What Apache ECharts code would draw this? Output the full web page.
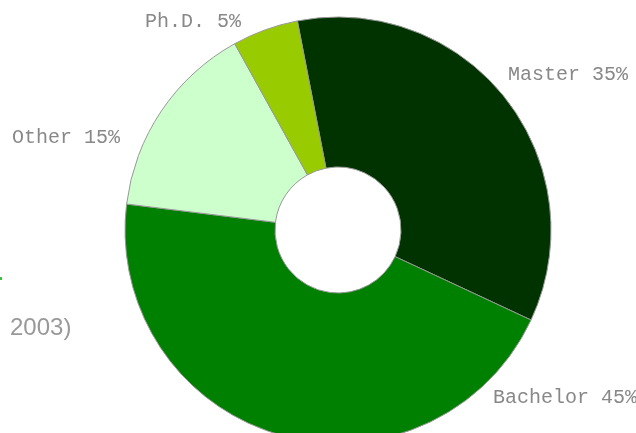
<!DOCTYPE html>
<html><head><meta charset="utf-8">
<script src="https://cdn.jsdelivr.net/npm/echarts@6/dist/echarts.min.js"></script>
<style>html,body{margin:0;padding:0;background:#fff}#c{width:636px;height:433px}</style>
</head><body><div id="c"></div>
<script>
var categories = ['Master', 'Bachelor', 'Other', 'Ph.D.'];
var values = [35, 45, 15, 5];
var colors = ['#003300', '#008000', '#ccffcc', '#99cc00'];
var captionText = '2003)';

var labelPos = [
  {x: 508, y: 75, align: 'left'},
  {x: 493, y: 398, align: 'left'},
  {x: 12, y: 138, align: 'left'},
  {x: 145, y: 22, align: 'left'}
];

var chart = echarts.init(document.getElementById('c'), null, {renderer: 'canvas'});
chart.setOption({
  animation: false,
  backgroundColor: '#fff',
  graphic: [
    {type: 'text', left: 10, top: 316, style: {text: captionText, fill: '#999', font: '24px "Liberation Sans", Arial, sans-serif'}},
    {type: 'rect', shape: {x: 0, y: 277, width: 2, height: 3}, style: {fill: '#44bb44'}}
  ],
  series: [{
    type: 'pie',
    center: [338, 230],
    radius: [63, 213],
    startAngle: 101,
    clockwise: true,
    avoidLabelOverlap: false,
    itemStyle: {borderColor: '#999', borderWidth: 1},
    label: {
      show: true,
      position: 'outside',
      formatter: function (p) { return p.name + ' ' + p.value + '%'; },
      color: '#888',
      fontFamily: '"Courier New", "Liberation Mono", monospace',
      fontSize: 20
    },
    labelLine: {show: false},
    labelLayout: function (p) {
      var lp = labelPos[p.dataIndex];
      return {x: lp.x, y: lp.y, align: lp.align, verticalAlign: 'middle', hideOverlap: false};
    },
    emphasis: {disabled: true},
    data: categories.map(function (c, i) {
      return {name: c, value: values[i], itemStyle: {color: colors[i]}};
    })
  }]
});
</script></body></html>
